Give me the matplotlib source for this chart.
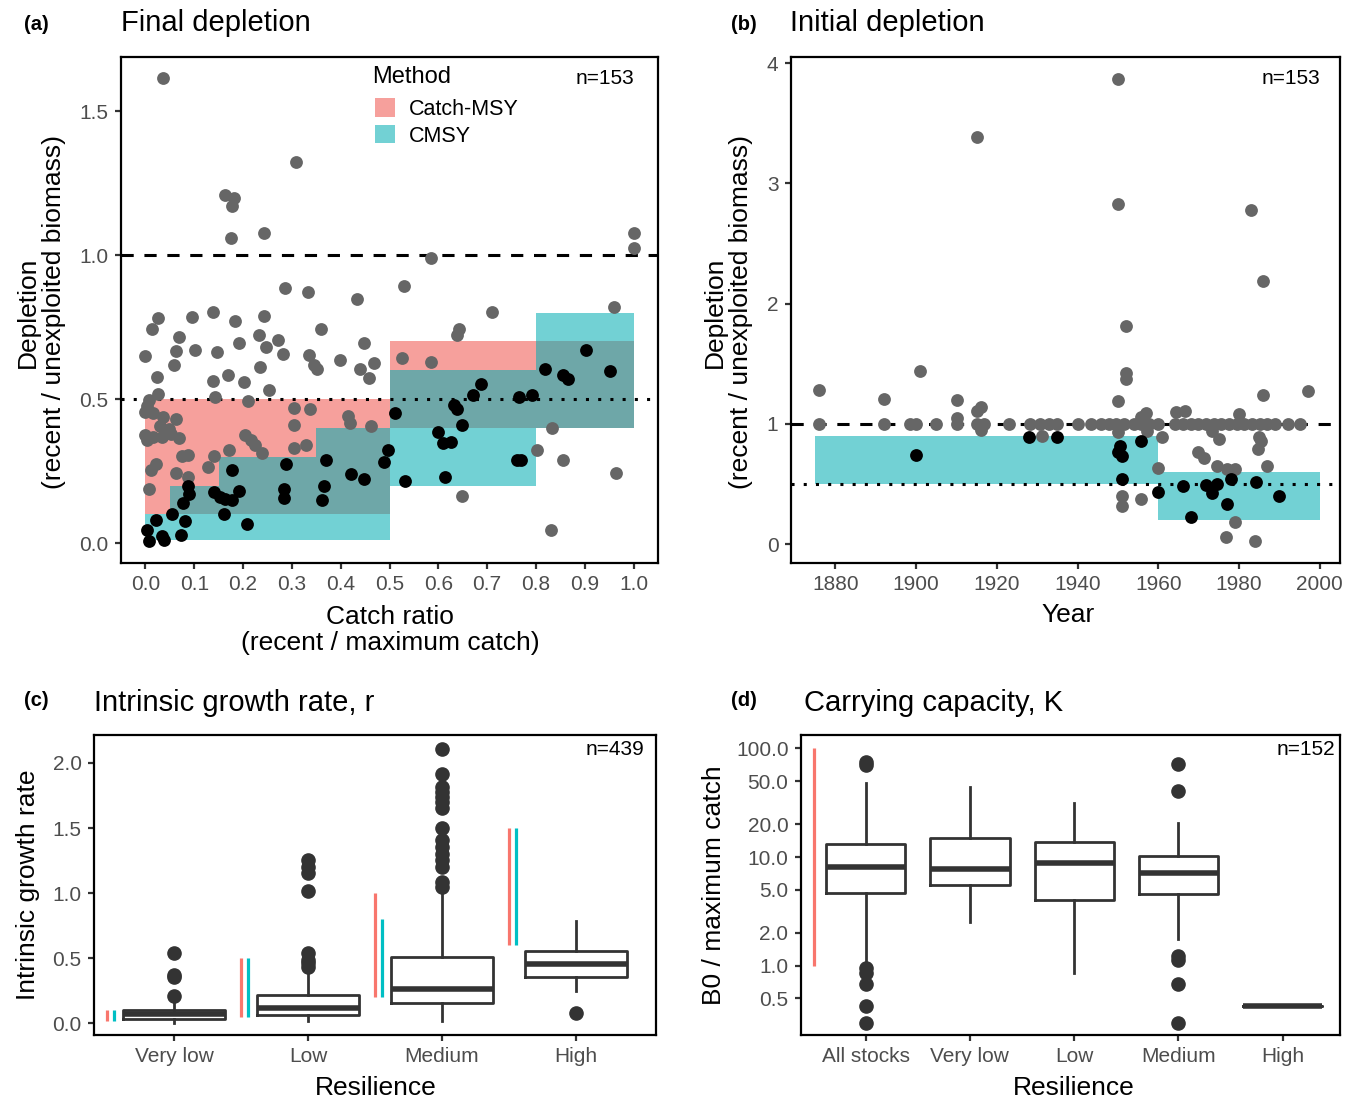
import numpy as np
import matplotlib
matplotlib.use("Agg")
import matplotlib.pyplot as plt
from matplotlib.patches import Patch

plt.rcParams['font.family'] = ['Liberation Sans', 'DejaVu Sans']

# ---- panel (a): final depletion vs catch ratio ----
a_gray_x = [0.037, 0.309, 0.164, 0.182, 0.178, 0.176, 0.242, 1.0, 1.0, 0.585, 0.286, 0.333, 0.530, 0.433,
            0.710, 0.959, 0.026, 0.013, 0.095, 0.139, 0.184, 0.243, 0.359, 0.068, 0.191, 0.233, 0.271,
            0.248, 0.281, 0.448, 0.642, 0.638, 0.0, 0.062, 0.102, 0.146, 0.335, 0.346, 0.351, 0.398,
            0.439, 0.468, 0.457, 0.059, 0.234, 0.526, 0.585, 0.024, 0.139, 0.169, 0.202, 0.253, 0.025,
            0.143, 0.210, 0.007, 0.004, 0.0, 0.015, 0.305, 0.338, 0.037, 0.063, 0.416, 0.420, 0.463,
            0.305, 0.030, 0.048, 0.0, 0.004, 0.015, 0.033, 0.052, 0.069, 0.204, 0.216, 0.225, 0.239,
            0.305, 0.329, 0.171, 0.141, 0.074, 0.087, 0.833, 0.803, 0.855, 0.963, 0.022, 0.011, 0.129,
            0.062, 0.088, 0.007, 0.648, 0.831]
a_gray_y = [1.614, 1.324, 1.209, 1.197, 1.170, 1.058, 1.078, 1.075, 1.023, 0.991, 0.886, 0.873, 0.892, 0.847,
            0.801, 0.818, 0.782, 0.742, 0.786, 0.801, 0.771, 0.788, 0.745, 0.716, 0.696, 0.724, 0.705,
            0.681, 0.658, 0.693, 0.745, 0.724, 0.650, 0.666, 0.670, 0.662, 0.652, 0.618, 0.606, 0.634,
            0.606, 0.626, 0.574, 0.618, 0.612, 0.641, 0.628, 0.575, 0.562, 0.585, 0.560, 0.531, 0.519,
            0.508, 0.494, 0.496, 0.475, 0.455, 0.450, 0.470, 0.467, 0.438, 0.430, 0.440, 0.418, 0.406,
            0.411, 0.406, 0.397, 0.374, 0.357, 0.368, 0.368, 0.380, 0.365, 0.374, 0.357, 0.340, 0.313,
            0.330, 0.340, 0.322, 0.302, 0.301, 0.307, 0.400, 0.324, 0.287, 0.243, 0.276, 0.255, 0.264,
            0.243, 0.229, 0.189, 0.162, 0.044]
a_black_x = [0.903, 0.818, 0.952, 0.855, 0.866, 0.688, 0.671, 0.766, 0.792, 0.632, 0.638, 0.648, 0.511,
             0.599, 0.610, 0.625, 0.762, 0.770, 0.613, 0.532, 0.496, 0.489, 0.370, 0.288, 0.422, 0.448,
             0.366, 0.362, 0.283, 0.283, 0.178, 0.141, 0.152, 0.164, 0.178, 0.192, 0.088, 0.089, 0.078,
             0.054, 0.082, 0.160, 0.208, 0.022, 0.004, 0.007, 0.033, 0.039, 0.073]
a_black_y = [0.670, 0.603, 0.597, 0.583, 0.571, 0.554, 0.513, 0.508, 0.513, 0.479, 0.464, 0.409, 0.450,
             0.386, 0.348, 0.351, 0.290, 0.287, 0.229, 0.216, 0.324, 0.282, 0.290, 0.276, 0.241, 0.224,
             0.197, 0.148, 0.189, 0.158, 0.255, 0.177, 0.160, 0.154, 0.151, 0.181, 0.200, 0.171, 0.140,
             0.102, 0.076, 0.102, 0.067, 0.081, 0.044, 0.009, 0.023, 0.012, 0.029]

# prior ranges of final depletion by catch-ratio bin
cmsy_x0 = [0.0, 0.05, 0.15, 0.35, 0.5, 0.8]
cmsy_x1 = [0.05, 0.15, 0.35, 0.5, 0.8, 1.0]
cmsy_lo = [0.01, 0.01, 0.01, 0.01, 0.2, 0.4]
cmsy_hi = [0.1, 0.2, 0.3, 0.4, 0.6, 0.8]
cmsy_old_x0 = [0.0, 0.5]
cmsy_old_x1 = [0.5, 1.0]
cmsy_old_lo = [0.1, 0.4]
cmsy_old_hi = [0.5, 0.7]

# ---- panel (b): initial depletion vs start year ----
b_gray_x = [1949.9, 1915.0, 1949.9, 1983.0, 1986.0, 1951.9, 1901.0, 1951.9, 1951.9, 1876.0, 1997.1,
            1986.0, 1892.0, 1910.0, 1949.9, 1916.0, 1915.0, 1956.9, 1955.7, 1964.4, 1966.6, 1979.9,
            1876.0, 1892.0, 1898.6, 1900.0, 1904.9, 1910.0, 1910.0, 1915.0, 1916.9, 1923.0, 1928.2,
            1930.6, 1932.8, 1934.9, 1940.1, 1943.4, 1945.8, 1947.7, 1949.6, 1951.5, 1953.9, 1955.7,
            1957.6, 1960.0, 1964.2, 1966.1, 1968.0, 1969.9, 1971.8, 1973.7, 1975.6, 1977.5, 1979.4,
            1981.3, 1983.2, 1985.1, 1987.0, 1988.9, 1992.2, 1995.0,
            1916.0, 1931.1, 1949.9, 1957.2, 1960.9, 1973.2, 1975.1, 1985.0, 1985.4, 1984.6, 1969.9,
            1971.3, 1960.0, 1974.6, 1977.0, 1978.9, 1987.0, 1951.0, 1951.0, 1955.7, 1978.9, 1976.8,
            1983.9]
b_gray_y = [3.870, 3.384, 2.824, 2.779, 2.191, 1.811, 1.437, 1.420, 1.373, 1.284, 1.270,
            1.240, 1.207, 1.201, 1.193, 1.143, 1.110, 1.090, 1.054, 1.096, 1.104, 1.082,
            1.0, 1.0, 1.0, 1.0, 1.0, 1.0, 1.05, 1.0, 1.0, 1.0, 1.0,
            1.0, 1.0, 1.0, 1.0, 1.0, 1.0, 1.0, 1.0, 1.0, 1.0, 1.0,
            1.0, 1.0, 1.0, 1.0, 1.0, 1.0, 1.0, 1.0, 1.0, 1.0, 1.0,
            1.0, 1.0, 1.0, 1.0, 1.0, 1.0, 1.0,
            0.950, 0.900, 0.930, 0.940, 0.888, 0.943, 0.874, 0.888, 0.860, 0.790, 0.763,
            0.716, 0.632, 0.652, 0.624, 0.624, 0.652, 0.402, 0.319, 0.380, 0.186, 0.061,
            0.028]
b_black_x = [1899.9, 1928.0, 1934.9, 1950.5, 1950.0, 1951.0, 1955.7, 1951.0, 1960.0, 1966.0, 1971.8,
             1973.2, 1974.6, 1978.0, 1984.1, 1977.0, 1968.0, 1990.0]
b_black_y = [0.743, 0.888, 0.888, 0.818, 0.763, 0.730, 0.854, 0.541, 0.438, 0.485, 0.494,
             0.424, 0.499, 0.541, 0.521, 0.333, 0.230, 0.397]
init_x0 = [1875, 1960]
init_x1 = [1960, 2000]
init_lo = [0.5, 0.2]
init_hi = [0.9, 0.6]

# ---- panel (c): intrinsic growth rate by resilience ----
res_labels = ['Very low', 'Low', 'Medium', 'High']
r_q1 = [0.035, 0.064, 0.159, 0.358]
r_med = [0.068, 0.120, 0.263, 0.453]
r_q3 = [0.105, 0.217, 0.512, 0.558]
r_lo = [0.005, 0.020, 0.020, 0.248]
r_hi = [0.160, 0.400, 1.000, 0.785]
r_out = [[0.212, 0.353, 0.371, 0.542],
         [0.430, 0.460, 0.486, 0.537, 1.018, 1.151, 1.202, 1.253],
         [1.049, 1.087, 1.197, 1.258, 1.304, 1.355, 1.407, 1.501, 1.657, 1.701, 1.739, 1.777,
          1.816, 1.913, 2.110],
         [0.077]]
r_prior_old_lo = [0.015, 0.05, 0.2, 0.6]
r_prior_old_hi = [0.1, 0.5, 1.0, 1.5]
r_prior_new_lo = [0.015, 0.05, 0.2, 0.6]
r_prior_new_hi = [0.1, 0.5, 0.8, 1.5]

# ---- panel (d): carrying capacity ----
k_labels = ['All stocks', 'Very low', 'Low', 'Medium', 'High']
k_q1 = [4.63, 5.53, 4.02, 4.53, 0.428]
k_med = [8.15, 7.70, 8.87, 7.08, 0.428]
k_q3 = [13.1, 14.9, 13.6, 10.3, 0.428]
k_lo = [1.10, 2.54, 0.85, 1.76, 0.428]
k_hi = [47.6, 43.8, 31.2, 20.4, 0.428]
k_out = [[0.294, 0.426, 0.673, 0.863, 0.945, 70.3, 75.4], [], [],
         [0.294, 0.673, 1.13, 1.24, 40.5, 71.3], []]
k_prior = [1, 100]

RED = '#F8766D'
TEAL = '#00BFC4'
RED_FILL = '#F6A09C'
TEAL_FILL = '#03AEB2'
GRAY = '#666666'
TICKC = '#4D4D4D'

W, H = 1356, 1101
fig = plt.figure(figsize=(W / 100, H / 100), dpi=100)


def box(l, t, r, b):
    return [l / W, 1 - b / H, (r - l) / W, (b - t) / H]


def ftext(x, y, s, **kw):
    fig.text(x / W, 1 - y / H, s, **kw)


def style(ax):
    for sp in ax.spines.values():
        sp.set_linewidth(1.6)
        sp.set_color('black')
    ax.tick_params(length=4, width=1.6, color='#333333', labelsize=15, labelcolor=TICKC, pad=5)


ax_a = fig.add_axes(box(121, 57, 658, 563))
ax_b = fig.add_axes(box(791, 57, 1340, 563))
ax_c = fig.add_axes(box(94, 735, 656, 1035))
ax_d = fig.add_axes(box(801, 735, 1340, 1035))

pt = 85

# (a)
for x0, x1, lo, hi in zip(cmsy_old_x0, cmsy_old_x1, cmsy_old_lo, cmsy_old_hi):
    ax_a.fill_between([x0, x1], lo, hi, color=RED_FILL, lw=0, zorder=1)
for x0, x1, lo, hi in zip(cmsy_x0, cmsy_x1, cmsy_lo, cmsy_hi):
    ax_a.fill_between([x0, x1], lo, hi, color=TEAL_FILL, alpha=0.555, lw=0, zorder=2)
ax_a.axhline(1.0, color='black', lw=2.2, ls=(0, (4, 3.5)), zorder=3)
ax_a.axhline(0.5, color='black', lw=2.2, ls=(0, (1, 3)), zorder=3)
ax_a.scatter(a_gray_x, a_gray_y, s=pt, color=GRAY, lw=0, zorder=4)
ax_a.scatter(a_black_x, a_black_y, s=pt, color='black', lw=0, zorder=5)
ax_a.set_xlim(-0.05, 1.05)
ax_a.set_ylim(-0.069, 1.6875)
ax_a.set_xticks(np.arange(0, 1.01, 0.1))
ax_a.set_xticklabels(['%.1f' % v for v in np.arange(0, 1.01, 0.1)])
ax_a.set_yticks([0, 0.5, 1.0, 1.5])
ax_a.set_yticklabels(['0.0', '0.5', '1.0', '1.5'])
style(ax_a)
handles = [Patch(color=RED_FILL, lw=0), Patch(color=TEAL_FILL, alpha=0.555, lw=0)]
leg = ax_a.legend(handles, ['Catch-MSY', 'CMSY'], loc='upper left',
                  bbox_to_anchor=(0.473, 0.918), frameon=False, fontsize=15.5,
                  handlelength=0.93, handleheight=0.95, handletextpad=0.65, labelspacing=0.22,
                  borderaxespad=0, borderpad=0)
ax_a.text(0.467, 0.960, 'Method', transform=ax_a.transAxes, ha='left', va='center', fontsize=17)
ax_a.text(0.955, 0.957, 'n=153', transform=ax_a.transAxes, ha='right', va='center', fontsize=15)

# (b)
for x0, x1, lo, hi in zip(init_x0, init_x1, init_lo, init_hi):
    ax_b.fill_between([x0, x1], lo, hi, color=TEAL_FILL, alpha=0.555, lw=0, zorder=1)
ax_b.axhline(1.0, color='black', lw=2.2, ls=(0, (4, 3.5)), zorder=2)
ax_b.axhline(0.5, color='black', lw=2.2, ls=(0, (1, 3)), zorder=2)
ax_b.scatter(b_gray_x, b_gray_y, s=pt, color=GRAY, lw=0, zorder=4)
ax_b.scatter(b_black_x, b_black_y, s=pt, color='black', lw=0, zorder=5)
ax_b.set_xlim(1869, 2005)
ax_b.set_ylim(-0.156, 4.05)
ax_b.set_xticks(range(1880, 2001, 20))
ax_b.set_yticks([0, 1, 2, 3, 4])
style(ax_b)
ax_b.text(0.9636, 0.957, 'n=153', transform=ax_b.transAxes, ha='right', va='center', fontsize=15)


def boxes(ax, q1, med, q3, lo, hi, out, labels):
    stats = []
    for i in range(len(labels)):
        stats.append(dict(q1=q1[i], med=med[i], q3=q3[i], whislo=lo[i], whishi=hi[i],
                          fliers=out[i], label=labels[i]))
    ax.bxp(stats, positions=range(1, len(labels) + 1), widths=0.76, showcaps=False,
           boxprops=dict(color='#333333', lw=2.0),
           whiskerprops=dict(color='#333333', lw=2.0),
           medianprops=dict(color='#333333', lw=4.0, solid_capstyle='butt'),
           flierprops=dict(marker='o', markerfacecolor='#333333', markeredgecolor='#333333',
                           markersize=9.5), zorder=3)


# (c)
pos_c = np.arange(1, len(res_labels) + 1)
ax_c.vlines(pos_c - 0.5, r_prior_old_lo, r_prior_old_hi, color=RED, lw=2.3)
ax_c.vlines(pos_c - 0.45, r_prior_new_lo, r_prior_new_hi, color=TEAL, lw=2.3)
boxes(ax_c, r_q1, r_med, r_q3, r_lo, r_hi, r_out, res_labels)
ax_c.set_xlim(0.4, 4.6)
ax_c.set_ylim(-0.09, 2.215)
ax_c.set_yticks([0, 0.5, 1.0, 1.5, 2.0])
ax_c.set_yticklabels(['0.0', '0.5', '1.0', '1.5', '2.0'])
style(ax_c)
ax_c.text(0.98, 0.953, 'n=439', transform=ax_c.transAxes, ha='right', va='center', fontsize=15)

# (d)
ax_d.set_yscale('log')
ax_d.vlines(0.5, k_prior[0], k_prior[1], color=RED, lw=2.3)
boxes(ax_d, k_q1, k_med, k_q3, k_lo, k_hi, k_out, k_labels)
ax_d.set_xlim(0.38, 5.55)
ax_d.set_ylim(0.23, 132.7)
kt = [0.5, 1, 2, 5, 10, 20, 50, 100]
ax_d.set_yticks(kt)
ax_d.set_yticklabels(['%.1f' % v for v in kt])
ax_d.minorticks_off()
style(ax_d)
ax_d.text(0.991, 0.953, 'n=152', transform=ax_d.transAxes, ha='right', va='center', fontsize=15)

# titles and axis labels
for x, y, s in [(24, 24, '(a)'), (731, 24, '(b)'), (24, 700, '(c)'), (731, 700, '(d)')]:
    ftext(x, y, s, fontsize=14.5, fontweight='bold', va='center', ha='left')
for x, y, s in [(121, 23, 'Final depletion'), (790, 23, 'Initial depletion'),
                (94, 703, 'Intrinsic growth rate, r'), (804, 703, 'Carrying capacity, K')]:
    ftext(x, y, s, fontsize=21, va='center', ha='left')

lab = dict(fontsize=19, ha='center', va='center', linespacing=1.1)
ftext(41, 312, 'Depletion\n(recent / unexploited biomass)', rotation=90, **lab)
ftext(390, 630, 'Catch ratio\n(recent / maximum catch)', **lab)
ftext(728, 312, 'Depletion\n(recent / unexploited biomass)', rotation=90, **lab)
ftext(1068, 615, 'Year', **lab)
ftext(28, 885, 'Intrinsic growth rate', rotation=90, **lab)
ftext(376, 1088, 'Resilience', **lab)
ftext(714, 885, 'B0 / maximum catch', rotation=90, **lab)
ftext(1074, 1088, 'Resilience', **lab)

fig.savefig('out.png', dpi=100)
